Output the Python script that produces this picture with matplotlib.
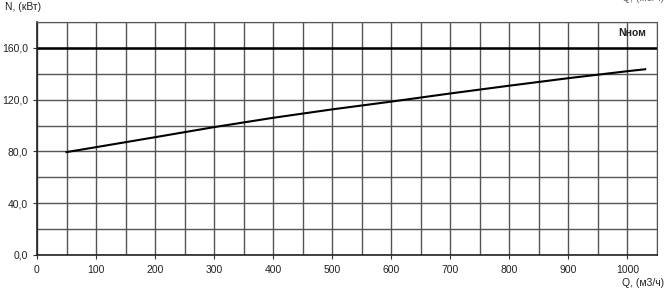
import matplotlib.pyplot as plt
from matplotlib.ticker import MultipleLocator, FuncFormatter

plt.rcParams['font.family'] = ['Liberation Sans', 'DejaVu Sans']

# Power curve N(Q)
q_values = [50, 100, 200, 300, 400, 500, 600, 700, 800, 900, 1000, 1030]
n_values = [79.5, 83.3, 91.0, 98.8, 106.0, 112.5, 118.5, 124.8, 130.8, 136.6, 142.0, 143.5]
n_nominal = 160.0

x_ticks = list(range(0, 1001, 100))
y_ticks = [0, 40, 80, 120, 160]

fig = plt.figure(figsize=(6.69, 2.9), dpi=100)
ax = fig.add_axes([37 / 669, 1 - 255 / 290, 620 / 669, 233 / 290])

ax.set_xlim(0, 1050)
ax.set_ylim(0, 180)

# grid every 50 / 20
ax.xaxis.set_minor_locator(MultipleLocator(50))
ax.yaxis.set_minor_locator(MultipleLocator(20))
ax.grid(which='both', color='#555555', linewidth=1.0)
ax.set_axisbelow(True)

ax.set_xticks(x_ticks)
ax.set_yticks(y_ticks)
ax.yaxis.set_major_formatter(FuncFormatter(lambda v, p: f'{v:.1f}'.replace('.', ',')))
ax.tick_params(axis='both', which='major', labelsize=7.5, length=3, width=0.8,
               color='#333333', labelcolor='#222222')
ax.tick_params(axis='both', which='minor', length=0)
ax.tick_params(axis='x', pad=4)

for side in ['top', 'right']:
    ax.spines[side].set_color('#555555')
for side in ['left', 'bottom']:
    ax.spines[side].set_color('#222222')
    ax.spines[side].set_linewidth(1.2)

ax.axhline(n_nominal, color='black', linewidth=1.8)
ax.plot(q_values, n_values, color='black', linewidth=1.5)

ax.text(1032, 171.5, 'Nном', fontsize=7.5, ha='right', va='center', fontweight='bold', color='#222222')

fig.text(5 / 669, 1 - 7 / 290, 'N, (кВт)', fontsize=7.5, ha='left', va='center', color='#222222')
fig.text(664 / 669, 1 - 283 / 290, 'Q, (м3/ч)', fontsize=7.5, ha='right', va='center', color='#222222')
fig.text(664 / 669, 1.0 + 2 / 290, 'Q, (м3/ч)', fontsize=7.5, ha='right', va='center', color='#666666')

fig.savefig('out.png', dpi=100)
